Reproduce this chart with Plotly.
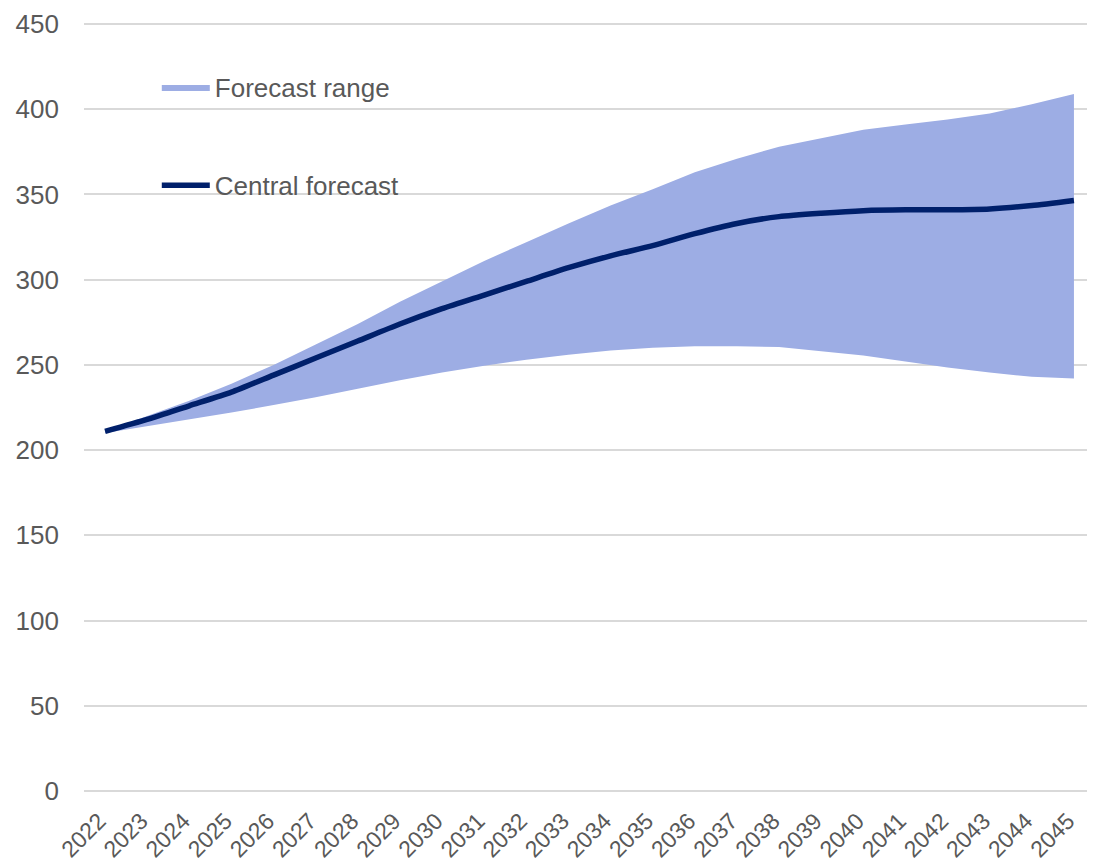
import plotly.graph_objects as go

years = [str(y) for y in range(2022, 2046)]
central = [211, 218, 226, 234, 244, 254, 264, 274, 283, 291, 299, 307, 314, 320,
           327, 333, 337, 339, 340.5, 341, 341, 341.5, 343.5, 346.5]
upper = [211, 220, 229, 239, 250, 262, 274, 287, 299, 311, 322, 333, 343.5, 353,
         363, 371, 378, 383, 388, 391, 394, 397.5, 403, 409]
lower = [210, 214, 218, 222, 226.5, 231, 236, 241, 245.5, 249.5, 253, 256, 258.5, 260,
         261, 261, 260.5, 258, 255.5, 252, 248.5, 245.5, 243, 242]
y_ticks = [0, 50, 100, 150, 200, 250, 300, 350, 400, 450]

FONT = "Liberation Sans, Arial, sans-serif"
GREY = "#595959"
FILL = "#9DADE4"
NAVY = "#00206B"

fig = go.Figure()
fig.add_trace(go.Scatter(x=years, y=lower, mode="lines", line=dict(width=0, color=FILL),
                         showlegend=False, hoverinfo="skip"))
fig.add_trace(go.Scatter(x=years, y=upper, mode="lines", line=dict(width=0, color=FILL),
                         fill="tonexty", fillcolor=FILL, name="Forecast range",
                         legend="legend"))
fig.add_trace(go.Scatter(x=years, y=central, mode="lines",
                         line=dict(width=5.5, color=NAVY, shape="spline", smoothing=0.6),
                         name="Central forecast", legend="legend2"))

fig.update_layout(
    width=1087, height=857,
    margin=dict(l=76, r=0, t=15, b=73, autoexpand=False),
    paper_bgcolor="white", plot_bgcolor="white",
    font=dict(family=FONT, color=GREY),
    legend=dict(x=0.072, y=0.9166, xanchor="left", yanchor="middle", itemwidth=48,
                font=dict(size=26, color=GREY, family=FONT), bgcolor="rgba(0,0,0,0)"),
    legend2=dict(x=0.072, y=0.789, xanchor="left", yanchor="middle", itemwidth=48,
                 font=dict(size=26, color=GREY, family=FONT), bgcolor="rgba(0,0,0,0)"),
)
fig.update_xaxes(type="category", range=[-0.5, 23.5], tickangle=-45, automargin=False,
                 tickfont=dict(size=23, color=GREY, family=FONT),
                 ticklabelstandoff=10, ticklabelshift=-6,
                 showgrid=False, showline=False, ticks="", zeroline=False)
fig.update_yaxes(range=[-0.6, 450.6], tickvals=y_ticks, showgrid=True, gridcolor="#D9D9D9",
                 gridwidth=1.5, zeroline=False, showline=False, ticks="", automargin=False,
                 tickfont=dict(size=26, color=GREY, family=FONT), ticklabelstandoff=24)

fig.write_html("out.html")
